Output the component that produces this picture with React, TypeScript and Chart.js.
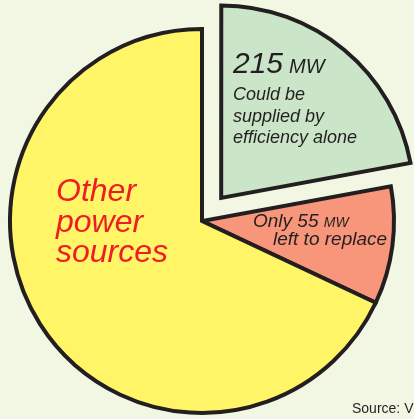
import React, { useEffect, useRef } from "react";
import { Chart, registerables } from "chart.js";

Chart.register(...registerables);

// ---- data (shares of the pie) ----
const categories = ["Efficiency", "Left to replace", "Other power sources"];
const shares = [22.1, 9.9, 68.0];
const sliceColors = ["#cbe5c9", "#f7967a", "#fff566"];
const explode = [120, 0, 0];

const efficiencyValue = "215";
const efficiencyUnit = "MW";
const efficiencyText = ["Could be", "supplied by", "efficiency alone"];
const remainingLine1 = "Only 55";
const remainingUnit = "MW";
const remainingLine2 = "left to replace";
const otherText = ["Other", "power", "sources"];
const sourceText = "Source: V";

const BG = "#f2f7e4";
const INK = "#231f20";
const RED = "#ee1c25";
const FONT = "'Liberation Sans', Arial, sans-serif";

const labelPlugin = {
  id: "pieLabels",
  afterDraw(chart: any) {
    const meta = chart.getDatasetMeta(0);
    const arc = meta.data[0];
    if (!arc) return;
    const cx = arc.x;
    const cy = arc.y;
    const ctx = chart.ctx as CanvasRenderingContext2D;
    ctx.save();
    ctx.textBaseline = "alphabetic";
    ctx.textAlign = "left";

    // green slice
    ctx.fillStyle = INK;
    ctx.font = `italic 30px ${FONT}`;
    ctx.fillText(efficiencyValue, cx + 31, cy - 148);
    const w215 = ctx.measureText(efficiencyValue).width;
    ctx.font = `italic 20px ${FONT}`;
    ctx.fillText(efficiencyUnit, cx + 31 + w215 + 6, cy - 148);
    ctx.font = `italic 18px ${FONT}`;
    efficiencyText.forEach((t, i) => ctx.fillText(t, cx + 31, cy - 121 + i * 21.5));

    // salmon slice
    ctx.font = `italic 19px ${FONT}`;
    ctx.fillText(remainingLine1, cx + 51, cy + 6);
    const w55 = ctx.measureText(remainingLine1 + " ").width;
    ctx.font = `italic 14px ${FONT}`;
    ctx.fillText(remainingUnit, cx + 51 + w55, cy + 6);
    ctx.font = `italic 19px ${FONT}`;
    ctx.fillText(remainingLine2, cx + 71, cy + 24);

    // yellow slice
    ctx.fillStyle = RED;
    ctx.font = `italic 32px ${FONT}`;
    otherText.forEach((t, i) => ctx.fillText(t, cx - 146, cy - 20 + i * 30.5));

    // source
    ctx.fillStyle = INK;
    ctx.font = `14px ${FONT}`;
    ctx.fillText(sourceText, 352, chart.height - 6);
    ctx.restore();
  },
};

export default function App() {
  const ref = useRef<HTMLCanvasElement>(null);
  useEffect(() => {
    if (!ref.current) return;
    const chart = new Chart(ref.current, {
      type: "pie",
      data: {
        labels: categories,
        datasets: [
          {
            data: shares,
            backgroundColor: sliceColors,
            borderColor: INK,
            borderWidth: 4,
            borderJoinStyle: "miter",
            offset: explode,
            hoverOffset: 0,
            radius: 192,
          } as any,
        ],
      },
      options: {
        animation: false,
        responsive: false,
        events: [],
        layout: { padding: { left: 0, right: 10, top: 23, bottom: 0 } },
        plugins: { legend: { display: false }, tooltip: { enabled: false } },
      },
      plugins: [labelPlugin],
    });
    return () => chart.destroy();
  }, []);
  return (
    <div
      style={{
        position: "absolute",
        left: 0,
        top: 0,
        width: 414,
        height: 419,
        background: BG,
        overflow: "hidden",
      }}
    >
      <canvas ref={ref} width={414} height={419} style={{ display: "block" }} />
    </div>
  );
}
